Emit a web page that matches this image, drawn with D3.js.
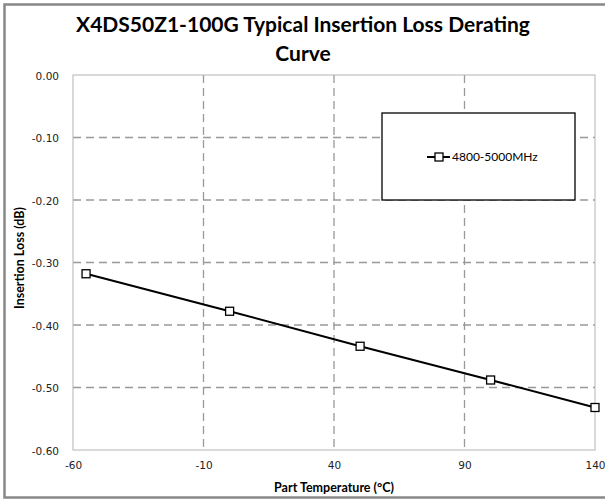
<!DOCTYPE html>
<html>
<head>
<meta charset="utf-8">
<script src="https://cdn.jsdelivr.net/npm/d3@7"></script>
<style>
  body { margin: 0; background: #fff; }
</style>
</head>
<body>
<div id="chart"></div>
<script>
// data
var temps = [-55, 0, 50, 100, 140];
var loss = [-0.318, -0.378, -0.434, -0.488, -0.532];
var seriesName = "4800-5000MHz";
var xTicks = [-60, -10, 40, 90, 140];
var yTicks = [0, -0.1, -0.2, -0.3, -0.4, -0.5, -0.6];

var width = 605, height = 500;

var svg = d3.select("#chart")
  .append("svg")
  .attr("width", width)
  .attr("height", height);

// outer frame
svg.append("rect")
  .attr("x", 4.5).attr("y", 4.5)
  .attr("width", 610).attr("height", 493)
  .attr("fill", "#fff")
  .attr("stroke", "#888")
  .attr("stroke-width", 2.5);

var x = d3.scaleLinear().domain([-60, 140]).range([73, 595]);
var y = d3.scaleLinear().domain([-0.6, 0]).range([450, 75]);

// hyphen instead of unicode minus, like the original
function fmt(f) {
  var g = d3.format(f);
  return function(d) { return g(d).replace("\u2212", "-"); };
}

// title
var title = svg.append("text")
  .attr("text-anchor", "middle")
  .style("font-family", "Lato, 'Open Sans', sans-serif")
  .style("font-weight", "bold")
  .style("font-size", "21px")
  .attr("fill", "#000");
title.append("tspan").attr("x", 303).attr("y", 32).text("X4DS50Z1-100G Typical Insertion Loss Derating");
title.append("tspan").attr("x", 303).attr("y", 61).text("Curve");

// gridlines (dashed)
var grid = svg.append("g");
grid.selectAll(".hgrid")
  .data(yTicks.filter(function(d) { return d !== 0 && d !== -0.6; }))
  .enter().append("line")
  .attr("class", "hgrid")
  .attr("x1", x(-60)).attr("x2", x(140))
  .attr("y1", function(d) { return y(d); })
  .attr("y2", function(d) { return y(d); })
  .style("stroke", "#999")
  .style("stroke-width", 1.3)
  .style("stroke-dasharray", "8,5");

grid.selectAll(".vgrid")
  .data(xTicks.filter(function(d) { return d !== -60 && d !== 140; }))
  .enter().append("line")
  .attr("class", "vgrid")
  .attr("y1", y(0)).attr("y2", y(-0.6))
  .attr("x1", function(d) { return x(d); })
  .attr("x2", function(d) { return x(d); })
  .style("stroke", "#999")
  .style("stroke-width", 1.3)
  .style("stroke-dasharray", "8,5");

// plot area border
svg.append("rect")
  .attr("x", x(-60)).attr("y", y(0))
  .attr("width", x(140) - x(-60))
  .attr("height", y(-0.6) - y(0))
  .attr("fill", "none")
  .style("stroke", "#b4b4b4")
  .style("stroke-width", 1);

// axes, labels only
var xAxis = svg.append("g")
  .attr("transform", "translate(0," + (y(-0.6) + 9) + ")")
  .call(d3.axisBottom(x).tickValues(xTicks).tickSize(0).tickFormat(fmt("d")));
var yAxis = svg.append("g")
  .attr("transform", "translate(" + (x(-60) - 11) + ",0)")
  .call(d3.axisLeft(y).tickValues(yTicks).tickSize(0).tickFormat(fmt(".2f")));

[xAxis, yAxis].forEach(function(a) {
  a.select(".domain").remove();
  a.selectAll("text")
    .style("font-family", "'DejaVu Sans', sans-serif")
    .style("font-size", "10.5px")
    .attr("fill", "#222");
});
yAxis.selectAll("text").attr("dy", "0.4em");

// axis titles
svg.append("text")
  .attr("x", 334).attr("y", 492)
  .attr("text-anchor", "middle")
  .style("font-family", "Lato, sans-serif")
  .style("font-weight", "bold")
  .style("font-size", "12.5px")
  .text("Part Temperature (°C)");

svg.append("text")
  .attr("transform", "translate(24,258) rotate(-90)")
  .attr("text-anchor", "middle")
  .style("font-family", "Lato, sans-serif")
  .style("font-weight", "bold")
  .style("font-size", "12.5px")
  .text("Insertion Loss (dB)");

// series line + markers
var pts = temps.map(function(t, i) { return {x: t, y: loss[i]}; });
var line = d3.line()
  .x(function(d) { return x(d.x); })
  .y(function(d) { return y(d.y); });

svg.append("path")
  .datum(pts)
  .attr("d", line)
  .attr("fill", "none")
  .style("stroke", "#000")
  .style("stroke-width", 2);

svg.selectAll(".marker")
  .data(pts)
  .enter().append("rect")
  .attr("class", "marker")
  .attr("x", function(d) { return x(d.x) - 4; })
  .attr("y", function(d) { return y(d.y) - 4; })
  .attr("width", 8).attr("height", 8)
  .attr("fill", "#fff")
  .style("stroke", "#000")
  .style("stroke-width", 1.3);

// legend
var legend = svg.append("g").attr("transform", "translate(382,113)");
legend.append("rect")
  .attr("width", 193).attr("height", 87)
  .attr("fill", "#fff")
  .style("stroke", "#000")
  .style("stroke-width", 1.3);
legend.append("line")
  .attr("x1", 45).attr("x2", 68)
  .attr("y1", 44).attr("y2", 44)
  .style("stroke", "#000")
  .style("stroke-width", 2);
legend.append("rect")
  .attr("x", 53).attr("y", 40)
  .attr("width", 8).attr("height", 8)
  .attr("fill", "#fff")
  .style("stroke", "#000")
  .style("stroke-width", 1.3);
legend.append("text")
  .attr("x", 70).attr("y", 48)
  .style("font-family", "Lato, sans-serif")
  .style("font-size", "12px")
  .text(seriesName);
</script>
</body>
</html>
